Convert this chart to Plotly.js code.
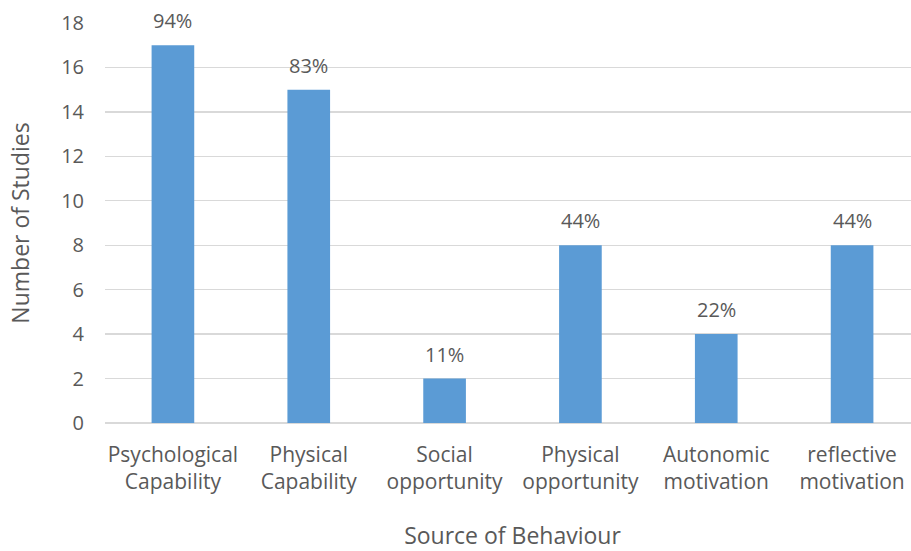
<!DOCTYPE html>
<html>
<head>
<meta charset="utf-8">
<script src="https://cdn.plot.ly/plotly-3.0.1.min.js"></script>
<style>
html,body{margin:0;padding:0;width:911px;height:551px;overflow:hidden;background:#fff;}
#chart{width:920px;height:551px;}
</style>
</head>
<body>
<div id="chart"></div>
<script>
const categories = ["Psychological<br>Capability", "Physical<br>Capability", "Social<br>opportunity", "Physical<br>opportunity", "Autonomic<br>motivation", "reflective<br>motivation"];
const studies = [17, 15, 2, 8, 4, 8];
const percentLabels = ["94%", "83%", "11%", "44%", "22%", "44%"];
const yTicks = [0, 2, 4, 6, 8, 10, 12, 14, 16, 18];

const font = "Open Sans, sans-serif";
const textColor = "#595959";

const trace = {
  type: "bar",
  x: categories,
  y: studies,
  marker: {color: "#5B9BD5"},
  hoverinfo: "skip"
};

const annotations = categories.map((c, i) => ({
  x: c, y: studies[i], xref: "x", yref: "y",
  text: percentLabels[i], showarrow: false,
  yanchor: "bottom", yshift: 9,
  font: {family: font, size: 20, color: textColor}
}));

const layout = {
  width: 920, height: 551,
  margin: {l: 105, r: 0, t: 23, b: 128},
  paper_bgcolor: "#fff", plot_bgcolor: "#fff",
  bargap: 0.686,
  showlegend: false,
  font: {family: font, size: 20, color: textColor},
  xaxis: {
    type: "category",
    showgrid: false, zeroline: false, showline: false,
    ticks: "", ticklabelstandoff: 17,
    tickfont: {family: font, size: 21, color: textColor},
    title: {text: "Source of Behaviour", font: {family: font, size: 23, color: textColor}, standoff: 37}
  },
  yaxis: {
    range: [0, 18], tickvals: yTicks,
    showgrid: true, gridcolor: "#D9D9D9", gridwidth: 1.3,
    zeroline: true, zerolinecolor: "#D9D9D9", zerolinewidth: 1.3,
    showline: false, ticks: "", ticklabelstandoff: 20,
    tickfont: {family: font, size: 20, color: textColor},
    title: {text: "Number of Studies", font: {family: font, size: 23, color: textColor}, standoff: 25}
  },
  annotations: annotations
};

Plotly.newPlot("chart", [trace], layout, {displayModeBar: false, staticPlot: true});
</script>
</body>
</html>
